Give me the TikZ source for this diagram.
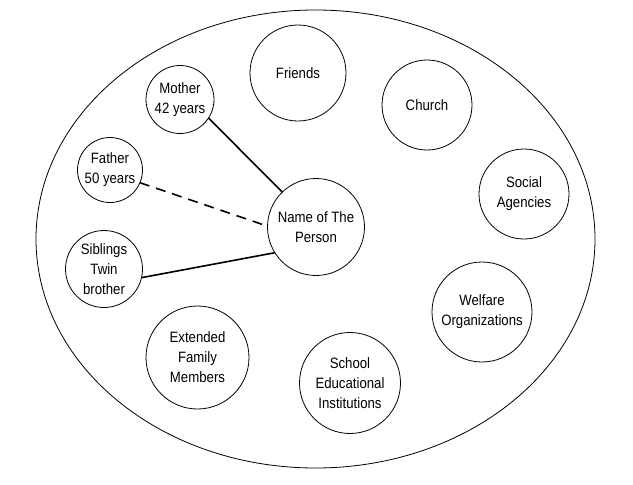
\documentclass[tikz,border=0pt]{standalone}
\usepackage{fontspec}
\setmainfont{Liberation Sans}[FakeStretch=0.88]
\begin{document}
\begin{tikzpicture}[x=1pt,y=-1pt,
  bub/.style={circle,draw,line width=0.8pt,inner sep=0pt,outer sep=0pt,align=center,
    font=\fontsize{15}{20}\selectfont},
  link/.style={line width=1.6pt},
  dlink/.style={line width=1.6pt,dash pattern=on 10pt off 7pt}]
\useasboundingbox (0,0) rectangle (633,485);
\draw[line width=0.8pt] (315.5,239) ellipse [x radius=279.5, y radius=229];
\node[bub,minimum size=96pt]  (friends) at (298,73)    {Friends};
\node[bub,minimum size=90pt]  (church)  at (427,105)   {Church};
\node[bub,minimum size=90pt]  (social)  at (524,194)   {Social\\Agencies};
\node[bub,minimum size=100pt] (welfare) at (482,312)   {Welfare\\Organizations};
\node[bub,minimum size=101pt] (school)  at (350,383)   {School\\Educational\\Institutions};
\node[bub,minimum size=103pt] (ext)     at (197.5,357.5) {Extended\\Family\\Members};
\node[bub,minimum size=77pt]  (sib)     at (104,269)   {Siblings\\Twin\\brother};
\node[bub,minimum size=65pt]  (father)  at (110,170)   {Father\\50 years};
\node[bub,minimum size=68pt]  (mother)  at (180,99.5)  {Mother\\42 years};
\node[bub,minimum size=97pt]  (name)    at (316,227)   {Name of The\\Person};
\draw[link]  (mother.-33) -- (name.134);
\draw[dlink] (father.-23) -- (name.179);
\draw[link]  (sib.-13)    -- (name.212);
\end{tikzpicture}
\end{document}
